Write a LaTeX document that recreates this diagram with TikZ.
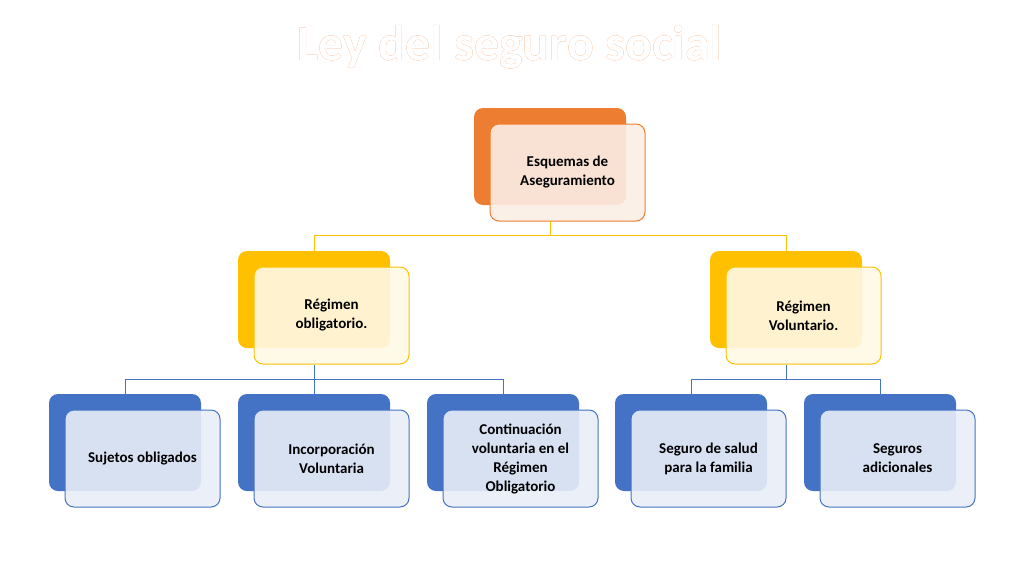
\documentclass[tikz,border=0pt]{standalone}
\usepackage{fontspec}
\setmainfont{Carlito}
\usepackage[outline]{contour}
\contourlength{1.2pt}
\definecolor{org}{HTML}{ED7D31}
\definecolor{orgl}{HTML}{FBEEE6}
\definecolor{yel}{HTML}{FFC000}
\definecolor{yell}{HTML}{FFF8E5}
\definecolor{blu}{HTML}{4472C4}
\definecolor{blul}{HTML}{E9EEF7}
\begin{document}
\begin{tikzpicture}[x=1pt,y=-1pt,
  back/.style={rounded corners=9pt},
  front/.style={rounded corners=9pt,fill opacity=0.9,line width=1pt},
  lbl/.style={font=\bfseries\fontsize{15}{19}\selectfont,align=center,text=black},
  conn/.style={line width=1pt}]
\useasboundingbox (0,0) rectangle (1024,576);
\node (title) at (510,47) {\fontsize{50}{56}\selectfont\bfseries\contour{org}{\textcolor{white}{Ley del seguro social}}};
% boxes: macro-less explicit
\newcommand\mybox[7]{% name, bx, by, backcol, frontfill, frontdraw, text
  \fill[back,#4] (#2,#3) rectangle ++(152,97);
  \draw[front,fill=#5,draw=#6] (#2+16,#3+16) rectangle ++(155,97);
  \node[lbl] (#1) at (#2+16+77.5,#3+16+48.5) {#7};
  \coordinate (#1-t) at (#2+76,#3);
  \coordinate (#1-b) at (#2+76,#3+113);}
\mybox{root}{474}{108}{org}{orgl}{org}{Esquemas de\\Aseguramiento}
\mybox{obl}{238}{251}{yel}{yell}{yel}{Régimen\\obligatorio.}
\mybox{vol}{710}{251}{yel}{yell}{yel}{Régimen\\Voluntario.}
\mybox{s1}{49}{394}{blu}{blul}{blu}{Sujetos obligados}
\mybox{s2}{238}{394}{blu}{blul}{blu}{Incorporación\\Voluntaria}
\mybox{s3}{427}{394}{blu}{blul}{blu}{Continuación\\voluntaria en el\\Régimen\\Obligatorio}
\mybox{s4}{615}{394}{blu}{blul}{blu}{Seguro de salud\\para la familia}
\mybox{s5}{804}{394}{blu}{blul}{blu}{Seguros\\adicionales}
\draw[conn,yel] (550,221) |- (314,235) -- (obl-t);
\draw[conn,yel] (550,235) -| (vol-t);
\draw[conn,blu] (314,365) -- (314,379) -| (s1-t);
\draw[conn,blu] (314,379) -| (s2-t);
\draw[conn,blu] (314,379) -| (s3-t);
\draw[conn,blu] (786,365) -- (786,379) -| (s4-t);
\draw[conn,blu] (786,379) -| (s5-t);
\end{tikzpicture}
\end{document}
